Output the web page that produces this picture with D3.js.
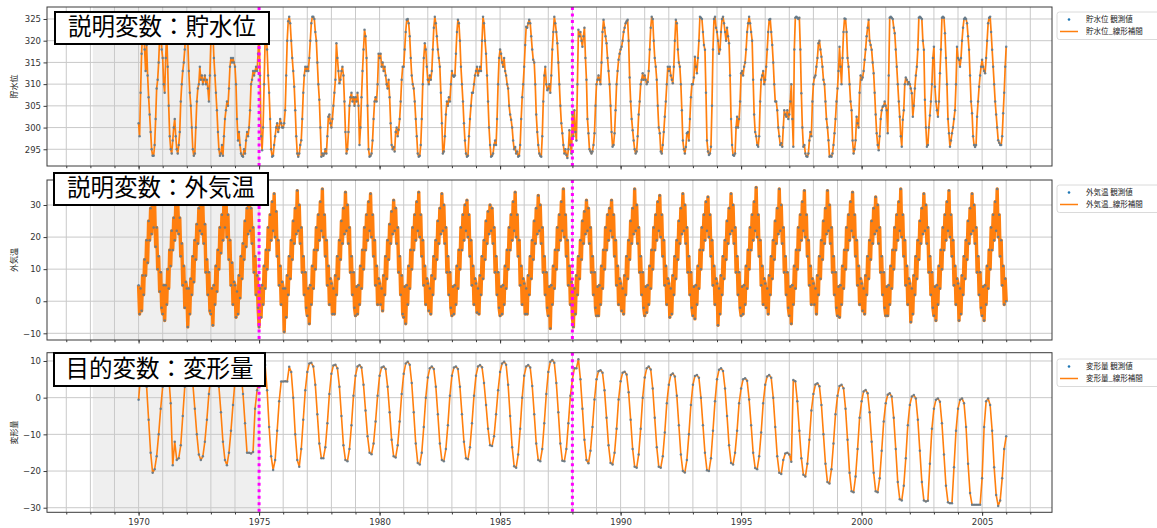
<!DOCTYPE html>
<html>
<head>
<meta charset="utf-8">
<script src="https://cdn.jsdelivr.net/npm/d3@7"></script>
<style>
  body { margin: 0; background: #fff; }
  svg { display: block; font-family: "DejaVu Sans", sans-serif; }
</style>
</head>
<body>
<div id="chart"></div>
<script>
'use strict';

// ---- data : one row per year, 1970 .. 2006 ----
var startYear = 1970;

// 貯水位, half-month readings
var waterRows = [
  [301,298,308,317,322,324,318,313,319,312,307,303,299,295,293.5,293.5,296,302,309,311,315,321,324,318],
  [316,310,308,316,322,314,305,298,295,294,297,300,302,298,295,294,296,299,306,310,313,315,318,323],
  [324,320,313,308,305,300,295,293.5,294,300,306,309,310,314,311,312,310,311,312,310,311,309,306,312],
  [320,324,322,316,312,308,304,299,295,293.5,294,296,293.5,298,302,304,306,305,309,314,316,315,316,315],
  [314,310,302,297,299,296,294,293.5,293.3,295,294,297,299,298,300,304,310,311,313,312,313,314,313,317],
  [322,312,298,294.8,300,310,320,322,318,312,308,302,295,293.3,293.5,296,298,300,301,299,300,302,301,300],
  [300,301,304,312,320,324.5,325.5,324,320,316,313,309.4,304,298,294,293.3,294,296,297.1,302,308,312,314,313],
  [314,313,316,320,324,325.5,325.5,325,322,320,315,310,306.4,300,293.3,294,293.5,294,295,294,298,302.5,303,301],
  [300,302,305,308,311,319.4,316,313,310.2,311,313,314,312,306,299,294,295,299,305,307,308,306,307,305],
  [307,306,308,305,296,300,307,313,318,322.5,321,316,305,295,293.3,293.5,294,297,302,306,307,306,310,317],
  [316,317,314,315,313,314,312,310,309,311,307,301,296,295,295.5,294.5,299,300,298,299.5,302,306,311,314],
  [314,318,322,324.8,325,324,321,316,312,310,309,306,302,298,294,293.3,293.5,296,302,310,316,319.4,318,314],
  [311,310,312,311,313,318,323,325.5,324,321,318,316,314,308,301,294,294.5,298,303,306,305,307,306,310],
  [313,312,311.7,312,317,322,324.8,324,320,314,310,306,301,297,294,293.3,293.5,298,302,305,308,308,310,312],
  [313,314,312,313,314,313,320,325.5,324,320,317,312,306,300,296,293.3,293.5,294,296,297,296,302,310,316],
  [318,317,315,314,316,313,312,310,309,305,303,301.8,300,297,295,295.5,294,294.5,293.3,293.5,296,302,307,310],
  [314,319,323.2,323,324,324.8,324,321,318,315.6,315,310,303,299,296,294,293.5,293.3,298,306,312,314,310,308.6],
  [309,310,308,312,318,322,325.5,324,322,319.4,315,310,305,301,298.7,296,294,295,293.7,293,295,299.4,296,294],
  [303,298,304,299,297,310,322.5,321,322,320,318.6,321,323,316,311,302,298.7,295,294.5,294,294.5,296,298.7,305],
  [310,311,312,311,310,315,322,324.8,323,321,319.4,316,313,310,305,299,295.6,296,298.7,304,310,313,315.6,317],
  [318,318.6,320,322,323,324,324.5,324.8,320,311.5,306,302,299.4,297,295,294,294.5,298,303,306,310,311,312.5,311],
  [312,311,310,310.5,313,318,323,325.5,325,320,316,314,311,305,300,298.7,294.5,294,296,299,302.5,306,310,314],
  [313,314,312,311,310.2,314,320,324.8,324,318,315,314,310,304,297,295,294,295.5,298.7,299,297,302,307,310],
  [310,311.5,316.3,314,312.5,316,320,325.5,325.3,325,322,319,317.9,308,297,294.5,293.7,294,295.6,305,318,325,325.5,323],
  [322,320,317,318,322,325,325.5,324,322,320,323,321,319.4,312,302,296,293.7,293.5,294,300,302.5,300,302,306],
  [312.5,313,312,314,315,318,322,324,325.5,324,322,320,311,303,299,298,296,295.6,298,306,311,312,313,310],
  [311,314,318,322,324.8,325,322,319,315,310,306,306,304,300,298,296,296.4,295.6,300,304,303,302.5,304,302],
  [303,306,310,302,295.6,318,325.3,325.5,325.3,325,325.3,318,307.9,300,295.6,296,294,293.4,293.3,294,297,299,298,306],
  [310,311.5,312,314,316,319.4,320,318,316.3,314,311,310,306,302,300,297.1,293.3,293.5,293.3,294,296,298.7,302,306],
  [309,313,318.6,314,310,316,322,325.1,325,322,316,314,310,306,304,297,294,295,297.1,302.5,301,300,308,312],
  [311,311.5,313,315.6,318,321,323,324.8,320,319,317.9,315,312.5,308,303,298.7,296,294.8,298,302,304,304.8,305,306],
  [305,304,298.7,312,325.3,325.5,325.3,325,323,321.7,318,314,310,306,302.5,298,295.6,301.8,304,310,311.5,311,310,310.5],
  [310,309,307.9,302.5,305,309,312,314,318,325.3,325.5,325.3,325,320,317.9,306.4,300,295.6,296,300,302.8,306,310,316],
  [318.6,309.4,306,304,302.5,306,312.5,318,325.3,325.5,325.3,321.7,316,310,302,298.7,295.6,297,298.7,300,302,304,310,318.6],
  [316,315.6,314,316,320,323,325,325.3,325,324,321,317.9,312,306,303.3,298,296,295.5,296,302.5,306,309.4,312,314],
  [315.6,314,313,312.5,316,320,324,325.3,325.5,322,317.9,314,310,306,303,300,297.1,296.5,296,296,298,303.3,308,314],
  [318.6]
];

// 外気温, half-month readings
var tempRows = [
  [5,-4,4,-3,8,2,13,8,19,12,25,19,29,21,33,23,30,17,23,10,14,3,9,-2],
  [-4,5,-6,5,-1,10,4,16,11,22,16,26,19,30,22,31,21,26,14,18,5,11,-2,6],
  [4,-8,4,-4,7,2,14,6,19,13,24,18,29,22,33,21,30,18,24,9,13,2,9,-3],
  [-4,4,-7.5,5,-1,11,3,16,10,23,15,27,19,31,23,33,20,27,13,19,5,12,-1,6],
  [5,-5,3,-4,8,1,14,7,18,13,25,17,29,21,33,22,29,18,23,9,14,2,8,-2],
  [-8,4,-5,5,-1,11,4,16,10,23,16,27,19,31,22,33.5,20,28,14,19,5,11,-1,6],
  [4,-9.5,4,-5,8,2,14,7,19,13,25,18,29,21,34.5,22,30,18,23,9,14,2,9,-2],
  [-4.5,4,-7,5,-1,11,4,16,10,23,16,27,19,31,22,35,20,27,14,19,5,11,-1,7],
  [5.5,-4,4,-4,8,2,14,7,19,13,25,18,29,21,34,22,30,18,23,9,14,2,9,-2],
  [-4.5,4.5,-4,5,-1,11,4,16,10,23,16,27,19,31,22,33.5,20,27,14,19,5,11,-1,7],
  [5.5,-1,4,-3,8,2,14,7,19,13,24,18,28,21,31.5,22,29,18,23,9,14,2,8,-4],
  [-5,4.5,-7,5,-1,11,4,16,10,23,16,27,19,31,22,34,20,27,14,19,5,11,-1,7],
  [5.5,-3,4,-4,8,2,14,7,19,13,25,18,29,21,33.5,22,30,18,23,9,14,2,9,-2],
  [-4.5,4.5,-4,5,-1,11,4,16,10,23,16,27,19,30,22,31.5,20,27,14,19,5,11,-1,7],
  [5.5,-3.5,4,-4,8,2,14,7,19,13,25,18,28,21,30,22,29,18,23,9,14,2,9,-2],
  [-4.5,4.5,-4,5,-1,11,4,16,10,23,16,27,19,31,22,34,20,27,14,19,5,11,-1,7],
  [5.5,-4,4,-4,8,2,14,7,19,13,25,18,29,21,33,22,30,18,23,9,14,2,9,-2],
  [-4.5,4.5,-8.5,5,-1,11,4,16,10,23,16,27,19,31,22,35,20,27,14,19,5,11,-1,6],
  [-5,-8,4,-4,8,2,14,7,19,13,25,18,28,21,31.5,22,29,18,23,9,14,2,9,-2],
  [-4.5,4.5,-4.5,5,-1,11,4,16,10,23,16,27,19,29,22,31.5,20,27,14,19,5,11,-1,7],
  [5.5,-3,4,-4,8,2,14,7,19,13,25,18,29,21,35,22,30,18,23,9,14,2,9,-2],
  [-4.5,4.5,-3.5,5,-1,11,4,16,10,23,16,27,19,31,22,33,20,27,14,19,5,11,-1,7],
  [5.5,-5,4,-4,8,2,14,7,19,13,25,18,29,21,33.5,22,30,18,23,9,14,2,9,-2],
  [-4.5,4.5,-5.5,5,-1,11,4,16,10,23,16,27,19,31,22,32.5,20,27,14,19,5,11,-1,7],
  [5.5,-7.5,4,-4,8,2,14,7,19,13,25,18,29,21,33.5,22,30,18,23,9,14,2,9,-2],
  [-4.5,4.5,-4,5,-1,11,4,16,10,23,16,27,19,31,22,35.5,20,27,14,19,5,11,-1,7],
  [5.5,-2,4,-4,8,2,14,7,19,13,25,18,29,21,35,22,30,18,23,9,14,2,9,-2],
  [-4.5,4.5,-7,5,-1,11,4,16,10,23,16,27,19,31,22,34.5,20,27,14,19,5,11,-1,7],
  [5.5,-1,4,-4,8,2,14,7,19,13,25,18,29,21,34.5,22,30,18,23,9,14,2,9,-2],
  [-4.5,4.5,-5,5,-1,11,4,16,10,23,16,27,19,31,22,34,20,27,14,19,5,11,-1,7],
  [5.5,-3,4,-4,8,2,14,7,19,13,25,18,29,21,32.5,22,30,18,23,9,14,2,9,-2],
  [-4.5,4.5,-4.5,5,-1,11,4,16,10,23,16,27,19,31,22,35,20,27,14,19,5,11,-1,7],
  [5.5,-6.5,4,-4,8,2,14,7,19,13,25,18,29,21,33.5,22,30,18,23,9,14,2,9,-2],
  [-4.5,4.5,-6,5,-1,11,4,16,10,23,16,27,19,31,22,34.5,20,27,14,19,5,11,-1,7],
  [5.5,-6,4,-4,8,2,14,7,19,13,25,18,29,21,33.5,22,30,18,23,9,14,2,9,-2],
  [-4.5,4.5,-6,5,-1,11,4,16,10,23,16,27,19,31,22,35,20,27,14,19,5,11,-1,7],
  [0]
];

// 変形量, monthly readings
var deformRows = [
  [-0.6,6,9,8.5,3,-6,-15,-20.5,-19.5,-16,-10,-3],
  [3,8,9,6,-1.5,-18.4,-12,-17,-16.5,-13,-5,3],
  [7,8.5,8,4,-3,-10,-15.5,-17,-16,-12,-6,1],
  [6,8,8.5,7.5,3,-4,-12,-17,-18.4,-15,-9,-2],
  [4.5,7.5,8,7,1,-7,-15,-15,-15.2,-14.8,-3,2],
  [5,9,9.5,8.9,2,-8,-16,-19.7,-17,-9,-1,4.4],
  [4.4,4.5,4.4,8.4,7,0,-10,-17,-18.8,-14,-6,2],
  [7,9.3,9.5,8.5,3.5,-4.5,-12.5,-16.5,-16.5,-13.5,-7,1],
  [6.5,8.8,9,8,3,-5,-13,-17,-17.3,-14,-7.5,0.5],
  [6,8.5,8.9,8.2,3.5,-3.5,-10.5,-15,-15.4,-12.5,-6.5,0.5],
  [6,8.2,8.5,7.8,3,-4,-11.5,-16,-16.3,-13,-6.5,1],
  [6.5,9.3,9.8,9,4,-4,-12.5,-17.8,-18.2,-15,-8,0],
  [5.5,8,8.5,7.8,3,-4.5,-12.5,-17,-17.3,-14,-7.5,0.5],
  [6,8.2,8.5,7.8,3,-4.5,-12,-16.5,-16.8,-13.5,-7,0.5],
  [6,8.5,8.9,8.3,4,-2,-8.5,-13,-13.2,-10.5,-4.5,2],
  [7,9.3,9.8,9,3.5,-5,-13.5,-18.7,-19.1,-15.5,-8.5,0],
  [6,8.5,8.9,8.2,3.2,-4.5,-12.5,-17,-17.3,-14,-7,1],
  [7,9.8,10.3,9.5,4,-4,-12.5,-17.2,-17.3,-14,-7,0.5],
  [5,8,8,10.5,5,-3,-11.5,-17,-17.9,-14.5,-8,-0.5],
  [5,7.2,7.5,6.8,2,-5.5,-13,-17.8,-18.2,-15,-8.5,-0.5],
  [4.5,6.8,7.1,6.3,1.5,-6,-14,-18.8,-19.1,-15.5,-8.5,0],
  [5.5,8,8.5,7.7,2.5,-5.5,-13.5,-18.8,-19.1,-16,-9.5,-1.5],
  [3.5,6.2,6.6,5.8,0.5,-7.5,-15.5,-20,-20.4,-17,-10,-2],
  [3.5,5.9,6.2,5.4,0,-7.5,-15,-19.8,-20,-16.5,-9,-1],
  [5,7.6,8,7.3,2.5,-5,-13,-17.8,-18.2,-15,-9,-1.5],
  [2.5,5,5.3,4.6,-0.5,-7.5,-15,-19.2,-19.5,-16,-9.5,-1.5],
  [3.5,5.8,6.2,5.4,0,-8,-16,-20.5,-20.8,-17,-15.2,-15],
  [-15.5,-17.5,4.8,4.5,-1,-9,-16.5,-21,-21.5,-18,-11.5,-3.5],
  [1,3.6,3.9,3.1,-2,-10,-18,-23,-23.4,-19.5,-12.5,-4.5],
  [0.5,3.2,3.5,2.6,-3,-11.5,-20.5,-25.5,-25.8,-21.5,-14,-5.5],
  [-1,1.7,2.1,1.2,-4,-12,-20.5,-25.5,-25.8,-22,-14.5,-6.5],
  [-1.5,0.8,1.2,0.3,-5.5,-14,-23,-27.7,-28,-24,-16.5,-7.5],
  [-2,0.3,0.7,-0.2,-6,-14.5,-23,-28,-28.3,-28.1,-18,-8.5],
  [-3,-0.6,-0.2,-1.1,-7,-15.5,-24,-28.5,-28.8,-28.8,-19,-9],
  [-3,-0.6,-0.2,-1.5,-8,-18,-26,-29.2,-29.2,-29.2,-29.2,-29.2],
  [-22,-8,-1,-0.2,-2,-9,-19,-26.5,-29.5,-28,-22,-14],
  [-10.5]
];

var waterTicks = [295, 300, 305, 310, 315, 320, 325];
var tempTicks = [-10, 0, 10, 20, 30];
var deformTicks = [-30, -20, -10, 0, 10];
var yearLabels = [1970, 1975, 1980, 1985, 1990, 1995, 2000, 2005];
var splitYears = [1975, 1988];
var shadedSpan = [1968.1, 1975];

var panelTitles = ['説明変数：貯水位', '説明変数：外気温', '目的変数：変形量'];
var axisNames = ['貯水位', '外気温', '変形量'];
var legendNames = [
  ['貯水位 観測値', '貯水位_線形補間'],
  ['外気温 観測値', '外気温_線形補間'],
  ['変形量 観測値', '変形量_線形補間']
];

////////////////////////////////////////////////////////////////////////////////////
var W = 1157, H = 528;
var left = 47, right = 1052;
var orange = '#ff7f0e', dotColor = '#587a95';
var jpFont = '"Noto Sans CJK JP", sans-serif';

// the temperature trace is drawn wider so the dense daily scatter reads as a band
var panels = [
  { rows: waterRows, perYear: 24, top: 7, bottom: 166, dom: [291.15, 327.76], ticks: waterTicks,
    box: [55, 12, 214, 32], legendY: 12, lineWidth: 1.7 },
  { rows: tempRows, perYear: 24, top: 180, bottom: 340, dom: [-12.09, 37.8], ticks: tempTicks,
    box: [54, 173, 214, 32], legendY: 185, lineWidth: 3.4 },
  { rows: deformRows, perYear: 12, top: 352.7, bottom: 512.3, dom: [-31.25, 12.26], ticks: deformTicks,
    box: [54, 353, 211, 33], legendY: 359, lineWidth: 1.6 }
];

function toSeries(rows, perYear) {
  var pts = [];
  rows.forEach(function (row, r) {
    row.forEach(function (v, i) {
      pts.push({ t: startYear + r + i / perYear, v: v });
    });
  });
  return pts;
}

var x = d3.scaleLinear().domain([1966.2, 2007.9]).range([left, right]);
var allYears = d3.range(1967, 2008);

var svg = d3.select('#chart').append('svg')
  .attr('width', W).attr('height', H);

panels.forEach(function (p, k) {
  var y = d3.scaleLinear().domain(p.dom).range([p.bottom, p.top]);
  var h = p.bottom - p.top;
  var g = svg.append('g');
  var isLast = k === panels.length - 1;

  g.append('clipPath').attr('id', 'clip' + k)
    .append('rect').attr('x', left).attr('y', p.top).attr('width', right - left).attr('height', h);

  // training span shading
  g.append('rect')
    .attr('x', x(shadedSpan[0])).attr('y', p.top)
    .attr('width', x(shadedSpan[1]) - x(shadedSpan[0])).attr('height', h)
    .attr('fill', '#efefef');

  // grid
  g.selectAll('.vgrid').data(allYears).enter().append('line')
    .attr('x1', function (d) { return x(d); }).attr('x2', function (d) { return x(d); })
    .attr('y1', p.top).attr('y2', p.bottom)
    .attr('stroke', '#c9c9c9').attr('stroke-width', 1);
  g.selectAll('.hgrid').data(p.ticks).enter().append('line')
    .attr('x1', left).attr('x2', right)
    .attr('y1', function (d) { return y(d); }).attr('y2', function (d) { return y(d); })
    .attr('stroke', '#c9c9c9').attr('stroke-width', 1);

  var pts = toSeries(p.rows, p.perYear);
  var plot = g.append('g').attr('clip-path', 'url(#clip' + k + ')');

  plot.append('path').datum(pts)
    .attr('fill', 'none').attr('stroke', orange).attr('stroke-width', p.lineWidth)
    .attr('stroke-linejoin', 'round')
    .attr('d', d3.line().x(function (d) { return x(d.t); }).y(function (d) { return y(d.v); }));

  plot.selectAll('circle').data(pts).enter().append('circle')
    .attr('cx', function (d) { return x(d.t); })
    .attr('cy', function (d) { return y(d.v); })
    .attr('r', 1.25).attr('fill', dotColor).attr('fill-opacity', 0.85);

  // split markers
  g.selectAll('.split').data(splitYears).enter().append('line')
    .attr('x1', function (d) { return x(d); }).attr('x2', function (d) { return x(d); })
    .attr('y1', p.top).attr('y2', p.bottom)
    .attr('stroke', '#ff00ff').attr('stroke-width', 3).attr('stroke-dasharray', '3,3.5');

  // frame
  g.append('rect').attr('x', left).attr('y', p.top).attr('width', right - left).attr('height', h)
    .attr('fill', 'none').attr('stroke', '#3a3a3a').attr('stroke-width', 1);

  // axes
  var yAxis = g.append('g').attr('transform', 'translate(' + left + ',0)')
    .call(d3.axisLeft(y).tickValues(p.ticks).tickSize(3.5).tickPadding(2.5));
  var minor = g.append('g').attr('transform', 'translate(0,' + p.bottom + ')')
    .call(d3.axisBottom(x).tickValues(allYears).tickSize(2.2).tickFormat(''));
  var major = g.append('g').attr('transform', 'translate(0,' + p.bottom + ')')
    .call(d3.axisBottom(x).tickValues(yearLabels).tickSize(3.5).tickPadding(3)
      .tickFormat(isLast ? d3.format('d') : ''));
  [yAxis, minor, major].forEach(function (a) {
    a.select('.domain').remove();
    a.selectAll('line').attr('stroke', '#3a3a3a');
    a.selectAll('text').attr('fill', '#333').attr('font-size', 8.5)
      .attr('font-family', '"DejaVu Sans", sans-serif');
  });

  g.append('text')
    .attr('transform', 'translate(15,' + ((p.top + p.bottom) / 2) + ') rotate(-90)')
    .attr('text-anchor', 'middle').attr('dominant-baseline', 'middle')
    .attr('font-family', jpFont).attr('font-size', 8).attr('fill', '#222')
    .text(axisNames[k]);

  // legend
  var lg = g.append('g').attr('transform', 'translate(1057,' + p.legendY + ')');
  lg.append('rect').attr('width', 112).attr('height', 27.5).attr('rx', 2.5)
    .attr('fill', '#fff').attr('stroke', '#d0d0d0').attr('stroke-width', 0.8);
  lg.append('circle').attr('cx', 12).attr('cy', 7.5).attr('r', 1.3).attr('fill', '#1f77b4');
  lg.append('line').attr('x1', 3).attr('x2', 21).attr('y1', 19.5).attr('y2', 19.5)
    .attr('stroke', orange).attr('stroke-width', 1.5);
  lg.selectAll('text').data(legendNames[k]).enter().append('text')
    .attr('x', 29).attr('y', function (d, i) { return 7.5 + i * 12; })
    .attr('dominant-baseline', 'middle')
    .attr('font-family', jpFont).attr('font-size', 7.5).attr('fill', '#222')
    .text(function (d) { return d; });

  // title box
  var b = p.box;
  g.append('rect').attr('x', b[0]).attr('y', b[1]).attr('width', b[2]).attr('height', b[3])
    .attr('fill', '#fff').attr('stroke', '#000').attr('stroke-width', 2);
  g.append('text').attr('x', b[0] + b[2] / 2).attr('y', b[1] + b[3] / 2 + 1)
    .attr('text-anchor', 'middle').attr('dominant-baseline', 'middle')
    .attr('font-family', jpFont).attr('font-size', 23.5).attr('fill', '#000')
    .text(panelTitles[k]);
});
</script>
</body>
</html>
